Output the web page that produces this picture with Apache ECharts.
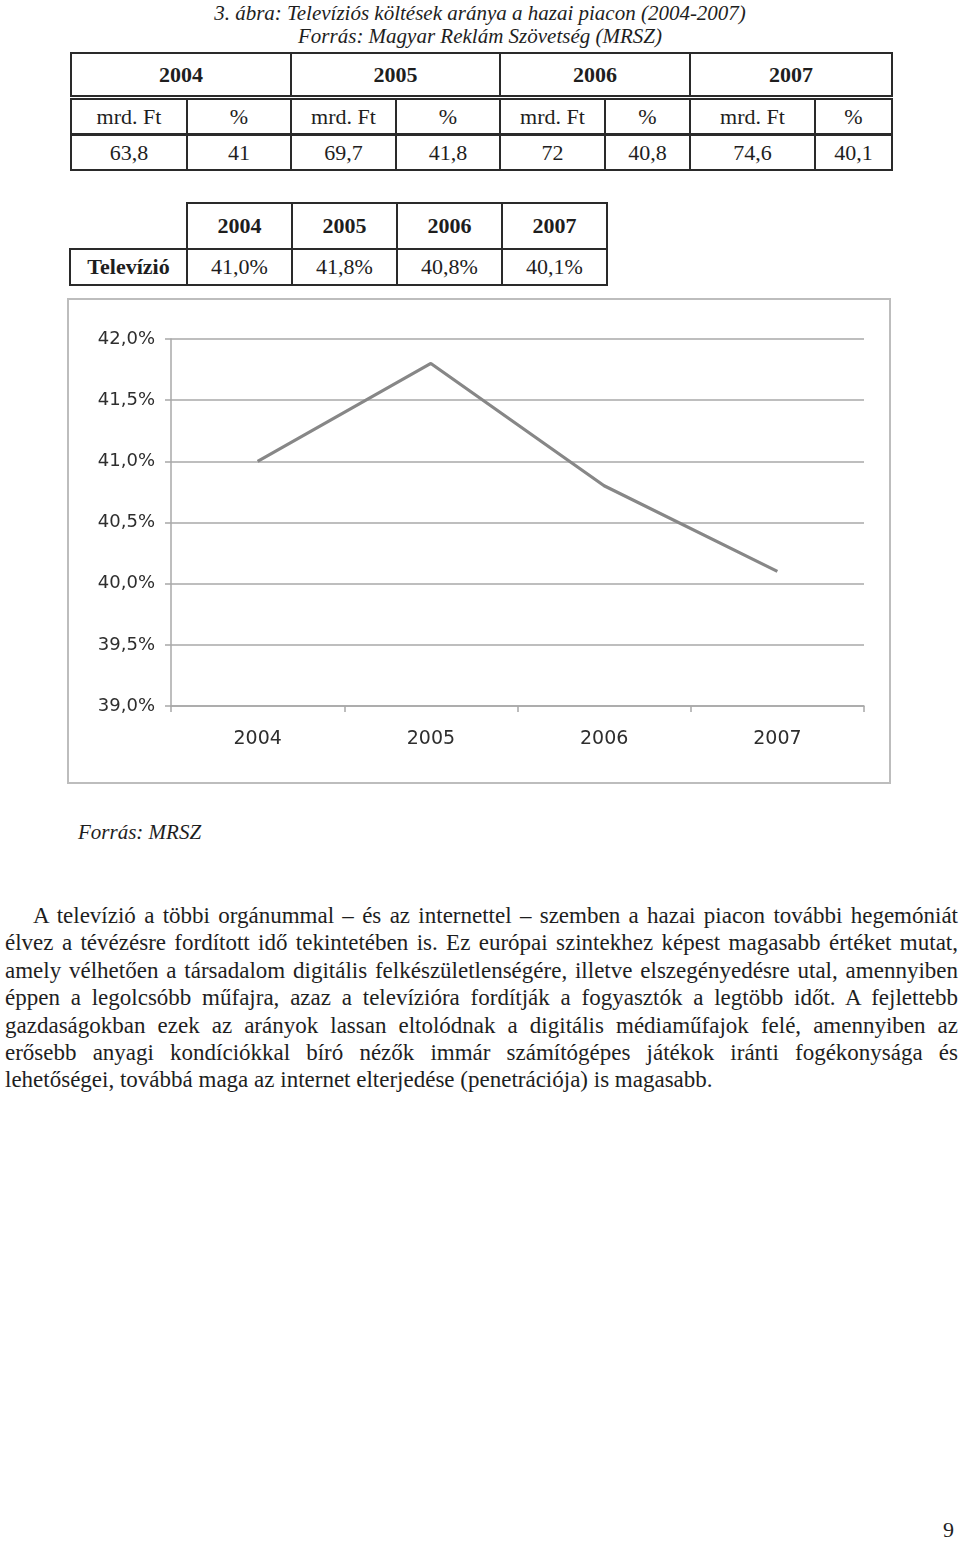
<!DOCTYPE html>
<html><head><meta charset="utf-8">
<script src="https://cdn.jsdelivr.net/npm/echarts@6/dist/echarts.min.js"></script>
<style>
html,body{margin:0;padding:0;background:#fff;}
body{width:960px;height:1542px;position:relative;overflow:hidden;font-family:"Liberation Serif","Times New Roman",serif;color:#1e1e1e;}
.abs{position:absolute;}
.title{left:0;width:960px;text-align:center;font-style:italic;font-size:21px;line-height:23px;white-space:nowrap;}
table{border-collapse:collapse;table-layout:fixed;position:absolute;}
td{padding:0;text-align:center;font-size:22px;overflow:hidden;white-space:nowrap;}
#t1{left:70px;top:52px;}
#t1 td{border:2px solid #2a2a2a;}
#t1 tr.r1 td{height:41px;font-weight:bold;border-bottom:5px double #2a2a2a;}
#t1 tr.r2 td{height:33px;border-bottom:3px solid #2a2a2a;}
#t1 tr.r3 td{height:33px;}
#t2{left:69px;top:202px;}
#t2 td{border:2px solid #2a2a2a;}
#t2 tr.r1 td{height:44px;font-weight:bold;}
#t2 tr.r1 td.corner{border-top:none;border-left:none;}
#t2 tr.r2 td{height:34px;}
#t2 td.lab{font-weight:bold;}
#chartBox{left:67px;top:298px;width:824px;height:486px;border:2px solid #bdbdbd;box-sizing:border-box;}
#chart{width:820px;height:482px;}
.src{left:78px;top:819px;font-style:italic;font-size:21px;line-height:26px;}
#body{left:5px;top:902px;width:953px;font-size:23px;line-height:27.4px;}
#body div{text-align:justify;text-align-last:justify;white-space:nowrap;}
#body div.first{padding-left:28px;}
#body div.last{text-align:left;text-align-last:left;}
.pg{left:943px;top:1518px;font-size:22px;line-height:24px;}
</style>
</head><body>
<div class="abs title" style="top:2px;">3. ábra: Televíziós költések aránya a hazai piacon (2004-2007)</div>
<div class="abs title" style="top:25px;">Forrás: Magyar Reklám Szövetség (MRSZ)</div>

<table id="t1"></table>
<table id="t2"></table>

<div class="abs" id="chartBox"><div id="chart"></div></div>

<div class="abs src">Forrás: MRSZ</div>

<div class="abs" id="body"></div>

<div class="abs pg">9</div>

<script>
// ---- data ----
const years = ['2004', '2005', '2006', '2007'];
const spendMrdFt = [63.8, 69.7, 72, 74.6];
const spendPct = [41, 41.8, 40.8, 40.1];
const tvShare = [41.0, 41.8, 40.8, 40.1];
const rowLabel = 'Televízió';
const subHeads = ['mrd. Ft', '%'];
const yMin = 39, yMax = 42, yStep = 0.5;
const sourceNote = 'Forrás: MRSZ';
const bodyLines = [
  'A televízió a többi orgánummal – és az internettel – szemben a hazai piacon további hegemóniát',
  'élvez a tévézésre fordított idő tekintetében is. Ez európai szintekhez képest magasabb értéket mutat,',
  'amely vélhetően a társadalom digitális felkészületlenségére, illetve elszegényedésre utal, amennyiben',
  'éppen a legolcsóbb műfajra, azaz a televízióra fordítják a fogyasztók a legtöbb időt. A fejlettebb',
  'gazdaságokban ezek az arányok lassan eltolódnak a digitális médiaműfajok felé, amennyiben az',
  'erősebb anyagi kondíciókkal bíró nézők immár számítógépes játékok iránti fogékonysága és',
  'lehetőségei, továbbá maga az internet elterjedése (penetrációja) is magasabb.'
];

// ---- layout constants ----
const t1Cols = [116, 104, 105, 104, 105, 85, 125, 77];
const t2Cols = [117, 105, 105, 105, 105];

function hu(v) { return String(v).replace('.', ','); }

// table 1
(function () {
  const t = document.getElementById('t1');
  let cg = '<colgroup>' + t1Cols.map(w => '<col style="width:' + w + 'px">').join('') + '</colgroup>';
  let r1 = '<tr class="r1">' + years.map(y => '<td colspan="2">' + y + '</td>').join('') + '</tr>';
  let r2 = '<tr class="r2">' + years.map(() => '<td>' + subHeads[0] + '</td><td>' + subHeads[1] + '</td>').join('') + '</tr>';
  let r3 = '<tr class="r3">' + years.map((y, i) => '<td>' + hu(spendMrdFt[i]) + '</td><td>' + hu(spendPct[i]) + '</td>').join('') + '</tr>';
  t.style.width = t1Cols.reduce((a, b) => a + b, 0) + 'px';
  t.innerHTML = cg + r1 + r2 + r3;
})();

// table 2
(function () {
  const t = document.getElementById('t2');
  let cg = '<colgroup>' + t2Cols.map(w => '<col style="width:' + w + 'px">').join('') + '</colgroup>';
  let r1 = '<tr class="r1"><td class="corner"></td>' + years.map(y => '<td>' + y + '</td>').join('') + '</tr>';
  let r2 = '<tr class="r2"><td class="lab">' + rowLabel + '</td>' + tvShare.map(v => '<td>' + hu(v.toFixed(1)) + '%</td>').join('') + '</tr>';
  t.style.width = t2Cols.reduce((a, b) => a + b, 0) + 'px';
  t.innerHTML = cg + r1 + r2;
})();

document.querySelector('.src').textContent = sourceNote;

// body text
(function () {
  const b = document.getElementById('body');
  b.innerHTML = bodyLines.map((l, i) => {
    let cls = i === 0 ? 'first' : (i === bodyLines.length - 1 ? 'last' : '');
    return '<div class="' + cls + '">' + l + '</div>';
  }).join('');
})();

// chart
const chart = echarts.init(document.getElementById('chart'), null, { renderer: 'canvas' });
chart.setOption({
  animation: false,
  backgroundColor: '#fff',
  grid: { left: 102, top: 39, right: 25, bottom: 76 },
  xAxis: {
    type: 'category',
    data: years,
    boundaryGap: true,
    axisLine: { show: true, lineStyle: { color: '#a8a8a8', width: 1.5 } },
    axisTick: { show: true, length: 6, lineStyle: { color: '#a8a8a8', width: 1.5 } },
    axisLabel: { color: '#2e2e2e', fontFamily: '"DejaVu Sans", Verdana, sans-serif', fontSize: 19, margin: 24 },
    splitLine: { show: false }
  },
  yAxis: {
    type: 'value',
    min: yMin, max: yMax, interval: yStep,
    axisLine: { show: true, lineStyle: { color: '#a8a8a8', width: 1.5 } },
    axisTick: { show: true, length: 6, lineStyle: { color: '#a8a8a8', width: 1.5 } },
    axisLabel: {
      color: '#2e2e2e', fontFamily: '"DejaVu Sans", Verdana, sans-serif', fontSize: 18, margin: 16,
      formatter: v => v.toFixed(1).replace('.', ',') + '%'
    },
    splitLine: { show: true, lineStyle: { color: '#a8a8a8', width: 1.5 } }
  },
  series: [{
    type: 'line',
    data: tvShare,
    showSymbol: false,
    symbol: 'none',
    lineStyle: { color: '#878787', width: 3.2 },
    itemStyle: { color: '#878787' }
  }]
});
</script>
</body></html>
